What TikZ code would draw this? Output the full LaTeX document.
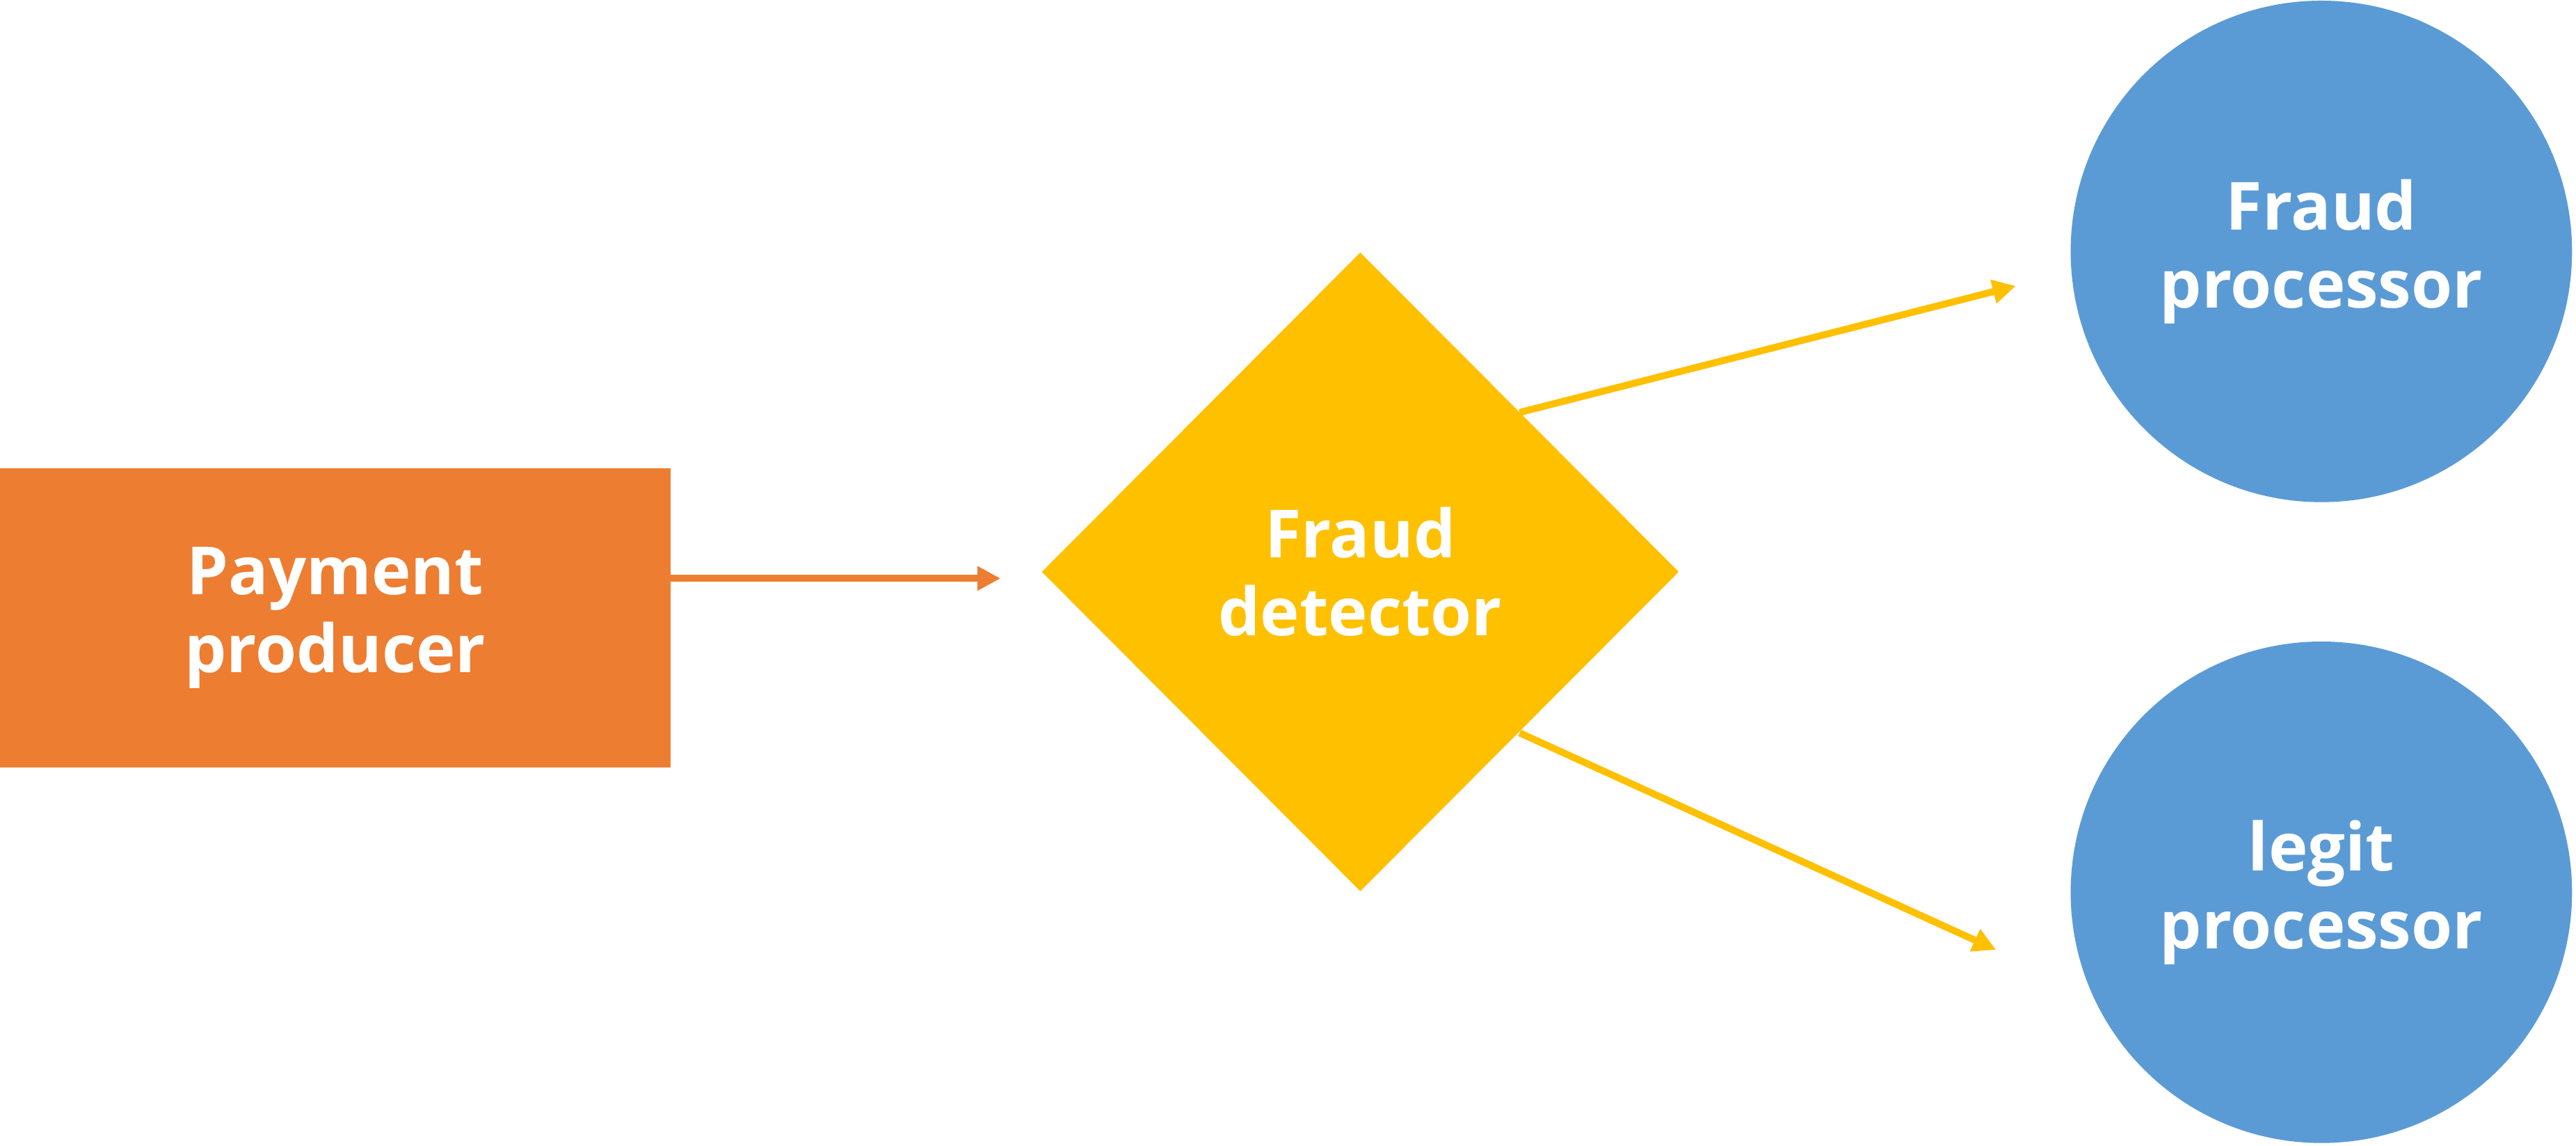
\documentclass[tikz,border=0pt]{standalone}
\usepackage{fontspec}
\setmainfont{Open Sans}
\usetikzlibrary{shapes.geometric}
\usetikzlibrary{arrows.meta}
\definecolor{prodorange}{HTML}{ED7D31}
\definecolor{detyellow}{HTML}{FFC000}
\definecolor{procblue}{HTML}{5B9BD5}
\tikzset {
  block/.style = {
    draw = none,
    text = white,
    font = \bfseries\fontsize{11.5}{13.5}\selectfont,
    align = center,
    inner sep = 0
  },
  % producer box
  producer/.style = {
    block,
    rectangle,
    fill = prodorange,
    minimum width = 4.08cm,
    minimum height = 1.82cm
  },
  % decision node
  detector/.style = {
    block,
    diamond,
    aspect = 1,
    fill = detyellow,
    minimum width = 3.88cm,
    minimum height = 3.89cm
  },
  % consumer circle
  processor/.style = {
    block,
    circle,
    fill = procblue,
    minimum size = 3.05cm
  },
  flow/.style = {
    line width = 1.2pt,
    -{Triangle[length=4pt,width=4pt]}
  }
}

\begin{document}
\begin{tikzpicture}[x=0.01cm, y=-0.01cm]
  \useasboundingbox (0,0) rectangle (1568,697);
  \node[producer] (payment) at (204,376) {Payment\\producer};
  \node[detector] (fraud) at (828,348) {Fraud\\detector};
  \node[processor] (fraudproc) at (1413,153) {Fraud\\processor};
  \node[processor] (legitproc) at (1413,543) {legit\\processor};

  \coordinate (pay-out) at (408,352);
  \coordinate (det-in) at (609,352);
  \coordinate (det-up) at (925,251);
  \coordinate (fraud-in) at (1227,174);
  \coordinate (det-down) at (925,446);
  \coordinate (legit-in) at (1215,578);

  \draw[flow, prodorange] (pay-out) -- (det-in);
  \draw[flow, detyellow] (det-up) -- (fraud-in);
  \draw[flow, detyellow] (det-down) -- (legit-in);
\end{tikzpicture}
\end{document}
